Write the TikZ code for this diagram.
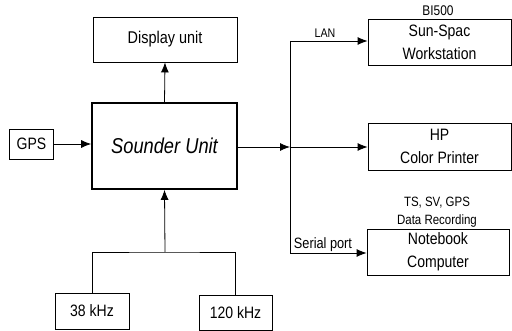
\documentclass[tikz,border=0pt]{standalone}
\usepackage{fontspec}
\setmainfont{Liberation Sans}[FakeStretch=0.85]
\usetikzlibrary{arrows.meta}

\begin{document}
\begin{tikzpicture}[x=1pt,y=-1pt,line width=0.8pt,
    >={Latex[length=10pt,width=8pt]},
    box/.style={draw,minimum width=144pt,minimum height=46pt,inner sep=0pt,align=center,font=\fontsize{16.5}{23}\selectfont},
    lab/.style={inner sep=0pt,align=center,font=\fontsize{13.5}{18}\selectfont}]
    \useasboundingbox (0,0) rectangle (512,331);
    % units
    \node[box,minimum height=45pt,font=\fontsize{17}{20}\selectfont] (disp) at (165,39.5) {Display unit};
    \node[box,minimum width=145pt,minimum height=86pt,line width=1.6pt,font=\fontsize{21.5}{25}\selectfont\itshape] (sounder) at (164.5,146) {Sounder Unit};
    \node[box,minimum width=44pt,minimum height=30pt] (gps) at (31.5,144) {GPS};
    \node[box,minimum width=74pt,minimum height=36pt] (lo) at (92,311) {38 kHz};
    \node[box,minimum width=73pt,minimum height=35pt] (hi) at (235.5,312.5) {120 kHz};
    \node[box,minimum width=143pt] (sun) at (439.5,42) {Sun-Spac\\Workstation};
    \node[box,minimum width=143pt,minimum height=47pt] (hp) at (439.5,146.5) {HP\\Color Printer};
    \node[box,minimum width=142pt] (note) at (438,252) {Notebook\\Computer};
    % labels
    \node[lab,font=\fontsize{14}{16}\selectfont] (bi) at (438,11) {BI500};
    \node[lab,font=\fontsize{12.5}{14}\selectfont] (lan) at (325,33) {LAN};
    \node[lab,font=\fontsize{15}{18}\selectfont] (serial) at (323,245) {Serial port};
    \node[lab] (rec) at (437,212) {TS, SV, GPS\\Data Recording};
    % connections
    \coordinate (bus) at (290,147);
    \coordinate (bustop) at (290,41);
    \coordinate (busbot) at (290,253);
    \coordinate (join) at (165,252);
    \draw[->] (sounder.north) -- (disp.south);
    \draw[->] (gps.east) -- (gps.east -| sounder.west);
    \draw[->] (sounder.east |- bus) -- (bus);
    \draw (bustop) -- (busbot);
    \draw[->] (bustop) -- (bustop -| sun.west);
    \draw[->] (bus) -- (bus -| hp.west);
    \draw[->] (busbot) -- (busbot -| note.west);
    \draw[->] (join) -- (sounder.south);
    \draw (lo.north) |- (join) -| (hi.north);
\end{tikzpicture}
\end{document}
